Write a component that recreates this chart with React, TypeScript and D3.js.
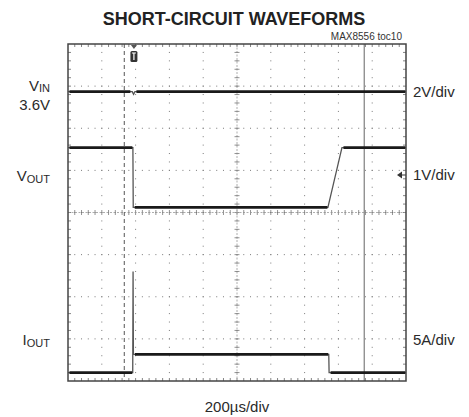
import React from "react";
import * as d3 from "d3";

// ---- data (time in µs, values in physical units) ----
const vinTime = [0, 372, 380, 388, 396, 2000];
const vinVolts = [3.6, 3.6, 3.6, 3.47, 3.6, 3.6];
const voutTime = [0, 384, 386, 1538, 1621, 2000];
const voutVolts = [1.42, 1.42, 0, 0, 1.42, 1.42];
const ioutTime = [0, 383, 385, 387, 1543, 1545, 2000];
const ioutAmps = [0, 0, 12, 2.15, 2.15, 0, 0];

// channel setup: scale per div, ground position (divisions from bottom)
const channels = [
  { name: "VIN", perDiv: 2, ground: 5.07, t: vinTime, v: vinVolts },
  { name: "VOUT", perDiv: 1, ground: 4.12, t: voutTime, v: voutVolts },
  { name: "IOUT", perDiv: 5, ground: 0.2, t: ioutTime, v: ioutAmps },
];
const triggerTime = 333;
const triggerMarkTime = 390;
const cursorTime = 1753;
const markerLevelDiv = 4.89;

const xDivs = 10;
const yDivs = 8;
const timeDomain = [0, 2000];

const W = 469;
const H = 417;
const left = 68, right = 406, top = 44, bottom = 381;

export default function App() {
  const x = d3.scaleLinear().domain(timeDomain).range([left, right]);
  const y = d3.scaleLinear().domain([0, yDivs]).range([bottom, top]);
  const divW = (right - left) / xDivs;
  const divH = (bottom - top) / yDivs;
  const font = "'Liberation Sans', Arial, Helvetica, sans-serif";

  const grid: JSX.Element[] = [];
  // dotted grid lines
  for (let i = 1; i < xDivs; i++) {
    const gx = left + i * divW;
    for (let k = 1; k < yDivs * 5; k++) {
      const gy = top + (k * divH) / 5;
      grid.push(<rect key={`vx${i}-${k}`} x={gx - 0.5} y={gy - 0.5} width={1} height={1} fill="#7a7a7a" />);
    }
  }
  for (let j = 1; j < yDivs; j++) {
    const gy = top + j * divH;
    for (let k = 1; k < xDivs * 5; k++) {
      const gx = left + (k * divW) / 5;
      grid.push(<rect key={`hy${j}-${k}`} x={gx - 0.5} y={gy - 0.5} width={1} height={1} fill="#7a7a7a" />);
    }
  }
  // center axes with minor ticks
  const cx = left + 5 * divW;
  const cy = top + 4 * divH;
  for (let k = 1; k < xDivs * 5; k++) {
    const gx = left + (k * divW) / 5;
    grid.push(<line key={`ct${k}`} x1={gx} x2={gx} y1={cy - 2.5} y2={cy + 2.5} stroke="#777" strokeWidth={0.8} />);
    grid.push(<line key={`tt${k}`} x1={gx} x2={gx} y1={top} y2={top + 3} stroke="#666" strokeWidth={0.8} />);
    grid.push(<line key={`bt${k}`} x1={gx} x2={gx} y1={bottom - 3} y2={bottom} stroke="#666" strokeWidth={0.8} />);
  }
  for (let k = 1; k < yDivs * 5; k++) {
    const gy = top + (k * divH) / 5;
    grid.push(<line key={`cv${k}`} x1={cx - 2.5} x2={cx + 2.5} y1={gy} y2={gy} stroke="#777" strokeWidth={0.8} />);
    grid.push(<line key={`lt${k}`} x1={left} x2={left + 3} y1={gy} y2={gy} stroke="#666" strokeWidth={0.8} />);
    grid.push(<line key={`rt${k}`} x1={right - 3} x2={right} y1={gy} y2={gy} stroke="#666" strokeWidth={0.8} />);
  }
  grid.push(<line key="chl" x1={left} x2={right} y1={cy} y2={cy} stroke="#999" strokeWidth={0.8} strokeDasharray="2 1.5" />);
  grid.push(<line key="cvl" x1={cx} x2={cx} y1={top} y2={bottom} stroke="#999" strokeWidth={0.8} strokeDasharray="2 1.5" />);

  const traces = channels.map((ch) => {
    const pts: [number, number][] = ch.t.map((t, i) => [x(t), y(ch.ground + ch.v[i] / ch.perDiv)]);
    const line = d3.line<[number, number]>();
    const flats: JSX.Element[] = [];
    for (let i = 0; i < pts.length - 1; i++) {
      if (Math.abs(pts[i][1] - pts[i + 1][1]) < 0.5 && pts[i + 1][0] - pts[i][0] > 5) {
        flats.push(
          <path key={`${ch.name}f${i}`} d={line([[pts[i][0] + 1.5, pts[i][1]], [pts[i + 1][0] - 0.5, pts[i + 1][1]]]) || ""}
            stroke="#1a1a1a" strokeWidth={2.8} fill="none" />
        );
      }
    }
    return (
      <g key={ch.name}>
        <path d={line(pts) || ""} stroke="#555" strokeWidth={1.3} fill="none" />
        {flats}
      </g>
    );
  });

  const tx = x(triggerMarkTime);
  const my = y(markerLevelDiv);

  return (
    <svg width={W} height={H} style={{ display: "block", position: "absolute", left: 0, top: 0 }}>
      <rect x={0} y={0} width={W} height={H} fill="#fff" />
      <text x={234} y={25} textAnchor="middle" fontFamily={font} fontWeight="bold" fontSize={18} fill="#222">
        SHORT-CIRCUIT WAVEFORMS
      </text>
      <text x={402} y={40} textAnchor="end" fontFamily={font} fontSize={10} fill="#333">
        MAX8556 toc10
      </text>
      {grid}
      <line x1={x(triggerTime)} x2={x(triggerTime)} y1={top} y2={bottom} stroke="#555" strokeWidth={1} strokeDasharray="4 3" />
      <line x1={x(cursorTime)} x2={x(cursorTime)} y1={top} y2={bottom} stroke="#888" strokeWidth={1.3} />
      {traces}
      {/* trigger marker */}
      <path d={`M${tx - 3},${top + 1} L${tx + 3},${top + 1} L${tx},${top + 5} Z`} fill="#555" />
      <rect x={tx - 3.5} y={top + 7} width={7} height={11} rx={1.5} fill="#333" />
      <path d={`M${tx - 2},${top + 9} L${tx + 2},${top + 9} M${tx},${top + 9} L${tx},${top + 16}`} stroke="#fff" strokeWidth={1.2} />
      {/* right ground marker */}
      <path d={`M${right - 9},${my} L${right - 4},${my - 3.5} L${right - 4},${my + 3.5} Z`} fill="#333" />
      <line x1={right - 4} x2={right} y1={my} y2={my} stroke="#333" strokeWidth={1} />
      <rect x={left} y={top} width={right - left} height={bottom - top} fill="none" stroke="#444" strokeWidth={1.5} />
      {/* left labels */}
      <g fontFamily={font} fill="#2a2a2a" fontSize={15}>
        <text x={50} y={91} textAnchor="end">V<tspan fontSize={11} dy={1}>IN</tspan></text>
        <text x={50} y={110} textAnchor="end">3.6V</text>
        <text x={50} y={181} textAnchor="end">V<tspan fontSize={11} dy={1.5}>OUT</tspan></text>
        <text x={50} y={345} textAnchor="end">I<tspan fontSize={11} dy={1.5}>OUT</tspan></text>
        <text x={413} y={97}>2V/div</text>
        <text x={413} y={180}>1V/div</text>
        <text x={413} y={345}>5A/div</text>
        <text x={237} y={412} textAnchor="middle">200µs/div</text>
      </g>
    </svg>
  );
}
